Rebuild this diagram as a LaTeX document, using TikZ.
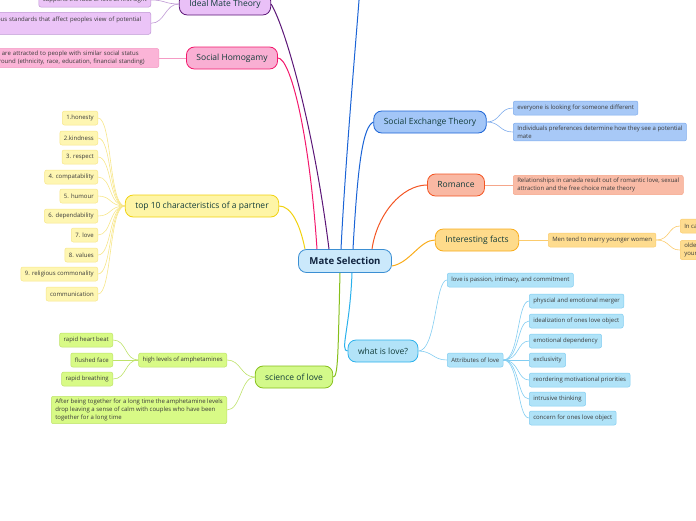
\documentclass[tikz,border=0pt]{standalone}
\usepackage{fontspec}
\setmainfont{Open Sans}
\usetikzlibrary{positioning}

\definecolor{rootfill}{HTML}{CBE9FB}
\definecolor{rootline}{HTML}{3B8FD3}
\definecolor{roottext}{HTML}{10243F}
\definecolor{topictext}{HTML}{123C3A}
\definecolor{leaftext}{HTML}{3A3A3A}
% purple
\definecolor{purline}{HTML}{5B1677}
\definecolor{purfill}{HTML}{E9C0F7}
\definecolor{purleaf}{HTML}{EBC4F7}
\definecolor{purleafline}{HTML}{BE97D4}
% pink
\definecolor{pinkline}{HTML}{F3196D}
\definecolor{pinkfill}{HTML}{F9AFD3}
\definecolor{pinkleaf}{HTML}{FBB4D7}
\definecolor{pinkleafline}{HTML}{F59BC5}
% yellow
\definecolor{yelline}{HTML}{F1D20F}
\definecolor{yelfill}{HTML}{FEF5A6}
\definecolor{yelleaf}{HTML}{FEF6B2}
\definecolor{yelleafline}{HTML}{F7E68A}
% lime
\definecolor{limeline}{HTML}{86BF1B}
\definecolor{limefill}{HTML}{D3F98A}
\definecolor{limeleaf}{HTML}{D8FA86}
\definecolor{limeleafline}{HTML}{BEE26A}
% blue
\definecolor{blueline}{HTML}{1B64D6}
\definecolor{bluefill}{HTML}{A3C6F7}
\definecolor{blueleaf}{HTML}{A8C9F7}
\definecolor{blueleafline}{HTML}{7FACEC}
% red orange
\definecolor{redline}{HTML}{F35624}
\definecolor{redfill}{HTML}{F9B8A3}
\definecolor{redleaf}{HTML}{F9BBA6}
\definecolor{redleafline}{HTML}{F5A68A}
% orange
\definecolor{orline}{HTML}{F9AC1B}
\definecolor{orfill}{HTML}{FEDB8B}
\definecolor{orleaf}{HTML}{FEDC8F}
\definecolor{orleafline}{HTML}{FBCB6C}
% light blue
\definecolor{skyline}{HTML}{2AB1EC}
\definecolor{skyfill}{HTML}{B2E3F8}
\definecolor{skyleaf}{HTML}{B0E3F8}
\definecolor{skyleafline}{HTML}{82CDF1}

\tikzset{
  rootnode/.style={draw=rootline, fill=rootfill, rounded corners=8pt, line width=0.8pt,
    minimum height=23pt, inner xsep=11pt, text=roottext,
    font=\fontsize{9.6}{11}\selectfont\bfseries},
  topic/.style={rounded corners=8pt, line width=0.8pt, minimum height=22pt,
    inner xsep=10pt, text=topictext, font=\fontsize{8.5}{10}\selectfont},
  leaf/.style={rounded corners=2pt, line width=0.5pt, minimum height=14pt,
    inner xsep=4pt, inner ysep=2.5pt, text=leaftext, align=left,
    font=\fontsize{6}{8.2}\selectfont},
  branch/.style={line width=1pt},
  twig/.style={line width=0.6pt}
}

\begin{document}
\begin{tikzpicture}[x=1pt,y=-1pt]
  \useasboundingbox (0,0) rectangle (696,520);
  \clip (0,0) rectangle (696,520);

  % centre
  \node[rootnode] (root) at (345,261) {Mate Selection};

  % main topics
  \node[topic, draw=purline, fill=purfill] (ideal) at (225,4) {Ideal Mate Theory};
  \node[topic, draw=pinkline, fill=pinkfill] (homog) at (232,58) {Social Homogamy};
  \node[topic, draw=yelline, fill=yelfill] (top10) at (202,206) {top 10 characteristics of a partner};
  \node[topic, draw=limeline, fill=limefill] (science) at (294,377) {science of love};
  \node[topic, draw=blueline, fill=bluefill] (exch) at (430,122) {Social Exchange Theory};
  \node[topic, draw=redline, fill=redfill] (romance) at (456,185) {Romance};
  \node[topic, draw=orline, fill=orfill] (facts) at (477,240) {Interesting facts};
  \node[topic, draw=skyline, fill=skyfill] (whatlove) at (383,351) {what is love?};
  \coordinate (offtop) at (362,-40);

  % Ideal Mate Theory
  \node[leaf, draw=purleafline, fill=purleaf, anchor=east] (sight) at (151,0)
    {supports the idea of love at first sight};
  \node[leaf, draw=purleafline, fill=purleaf, anchor=north east, minimum height=22pt,
    text width=160pt] (standards) at (151,12)
    {various standards that affect peoples view of potential\\ \mbox{}};

  % Social Homogamy
  \node[leaf, draw=pinkleafline, fill=pinkleaf, anchor=east, text width=185pt] (similar) at (159,58)
    {Individuals are attracted to people with similar social status\\
     and background (ethnicity, race, education, financial standing)};

  % top 10
  \node[leaf, draw=yelleafline, fill=yelleaf, anchor=east] (c1) at (98,118) {1.honesty};
  \node[leaf, draw=yelleafline, fill=yelleaf, anchor=east] (c2) at (98,138) {2.kindness};
  \node[leaf, draw=yelleafline, fill=yelleaf, anchor=east] (c3) at (98,157) {3. respect};
  \node[leaf, draw=yelleafline, fill=yelleaf, anchor=east] (c4) at (98,177) {4. compatability};
  \node[leaf, draw=yelleafline, fill=yelleaf, anchor=east] (c5) at (98,196) {5. humour};
  \node[leaf, draw=yelleafline, fill=yelleaf, anchor=east] (c6) at (98,216) {6. dependability};
  \node[leaf, draw=yelleafline, fill=yelleaf, anchor=east] (c7) at (98,235) {7. love};
  \node[leaf, draw=yelleafline, fill=yelleaf, anchor=east] (c8) at (98,255) {8. values};
  \node[leaf, draw=yelleafline, fill=yelleaf, anchor=east] (c9) at (98,274) {9. religious commonality};
  \node[leaf, draw=yelleafline, fill=yelleaf, anchor=east] (c10) at (98,294) {communication};

  % science of love
  \node[leaf, draw=limeleafline, fill=limeleaf, anchor=east] (amph) at (227,360)
    {high levels of amphetamines};
  \node[leaf, draw=limeleafline, fill=limeleaf, anchor=east] (after) at (227,410)
    {After being together for a long time the amphetamine levels\\
     drop leaving a sense of calm with couples who have been\\
     together for a long time};
  \node[leaf, draw=limeleafline, fill=limeleaf, anchor=east] (heart) at (113,340) {rapid heart beat};
  \node[leaf, draw=limeleafline, fill=limeleaf, anchor=east] (flush) at (113,360) {flushed face};
  \node[leaf, draw=limeleafline, fill=limeleaf, anchor=east] (breath) at (113,379) {rapid breathing};

  % Social Exchange Theory
  \node[leaf, draw=blueleafline, fill=blueleaf, anchor=west] (someone) at (513,108)
    {everyone is looking for someone different};
  \node[leaf, draw=blueleafline, fill=blueleaf, anchor=west] (prefs) at (513,132)
    {Individuals preferences determine how they see a potential\\ mate};

  % Romance
  \node[leaf, draw=redleafline, fill=redleaf, anchor=west] (canada) at (513,185)
    {Relationships in canada result out of romantic love, sexual\\
     attraction and the free choice mate theory};

  % Interesting facts
  \node[leaf, draw=orleafline, fill=orleaf, anchor=west] (younger) at (548,240)
    {Men tend to marry younger women};
  \node[leaf, draw=orleafline, fill=orleaf, anchor=west] (incan) at (680,226) {In canada};
  \node[leaf, draw=orleafline, fill=orleaf, anchor=west] (older) at (680,250) {older\\ younger};

  % what is love?
  \node[leaf, draw=skyleafline, fill=skyleaf, anchor=west] (passion) at (447,280)
    {love is passion, intimacy, and commitment};
  \node[leaf, draw=skyleafline, fill=skyleaf, anchor=west] (attr) at (447,360) {Attributes of love};
  \node[leaf, draw=skyleafline, fill=skyleaf, anchor=west] (a1) at (529,301) {physcial and emotional merger};
  \node[leaf, draw=skyleafline, fill=skyleaf, anchor=west] (a2) at (529,321) {idealization of ones love object};
  \node[leaf, draw=skyleafline, fill=skyleaf, anchor=west] (a3) at (529,341) {emotional dependency};
  \node[leaf, draw=skyleafline, fill=skyleaf, anchor=west] (a4) at (529,360) {exclusivity};
  \node[leaf, draw=skyleafline, fill=skyleaf, anchor=west] (a5) at (529,380) {reordering motivational priorities};
  \node[leaf, draw=skyleafline, fill=skyleaf, anchor=west] (a6) at (529,399) {intrusive thinking};
  \node[leaf, draw=skyleafline, fill=skyleaf, anchor=west] (a7) at (529,418) {concern for ones love object};

  % branches from the centre
  \begin{scope}[branch]
    \draw[purline] ([xshift=-16pt]root.north) .. controls +(-15,-120) and +(15,25) .. (ideal.east);
    \draw[pinkline] ([xshift=-28pt]root.north) .. controls +(-8,-120) and +(12,0) .. (homog.east);
    \draw[yelline] ([xshift=-40pt]root.north) .. controls +(-5,-25) and +(12,0) .. (top10.east);
    \draw[blueline] ([xshift=-4pt]root.north) .. controls +(5,-100) and +(-4,60) .. (offtop);
    \draw[blueline] ([xshift=8pt]root.north) .. controls +(5,-90) and +(-10,5) .. (exch.west);
    \draw[redline] ([xshift=27pt]root.north) .. controls +(5,-35) and +(-25,0) .. (romance.west);
    \draw[orline] ([yshift=-5pt]root.east) .. controls +(18,-3) and +(-15,0) .. (facts.west);
    \draw[skyline] ([xshift=7pt]root.south) .. controls +(-2,55) and +(-8,0) .. (whatlove.west);
    \draw[limeline] ([xshift=-5pt]root.south) .. controls +(-2,80) and +(5,0) .. (science.east);
  \end{scope}

  % twigs
  \begin{scope}[twig]
    \draw[purleafline] (ideal.west) .. controls +(-14,0) and +(14,0) .. (sight.east);
    \draw[purleafline] (ideal.west) .. controls +(-14,0) and +(14,0) .. (standards.east);
    \draw[pinkleafline] (homog.west) -- (similar.east);
    \draw[yelleafline] (top10.west) .. controls +(-16,0) and +(14,0) .. (c1.east);
    \draw[yelleafline] (top10.west) .. controls +(-16,0) and +(14,0) .. (c2.east);
    \draw[yelleafline] (top10.west) .. controls +(-16,0) and +(14,0) .. (c3.east);
    \draw[yelleafline] (top10.west) .. controls +(-16,0) and +(14,0) .. (c4.east);
    \draw[yelleafline] (top10.west) .. controls +(-16,0) and +(14,0) .. (c5.east);
    \draw[yelleafline] (top10.west) .. controls +(-16,0) and +(14,0) .. (c6.east);
    \draw[yelleafline] (top10.west) .. controls +(-16,0) and +(14,0) .. (c7.east);
    \draw[yelleafline] (top10.west) .. controls +(-16,0) and +(14,0) .. (c8.east);
    \draw[yelleafline] (top10.west) .. controls +(-16,0) and +(14,0) .. (c9.east);
    \draw[yelleafline] (top10.west) .. controls +(-16,0) and +(14,0) .. (c10.east);
    \draw[limeleafline] (science.west) .. controls +(-14,0) and +(14,0) .. (amph.east);
    \draw[limeleafline] (science.west) .. controls +(-14,0) and +(14,0) .. (after.east);
    \draw[limeleafline] (amph.west) .. controls +(-14,0) and +(14,0) .. (heart.east);
    \draw[limeleafline] (amph.west) -- (flush.east);
    \draw[limeleafline] (amph.west) .. controls +(-14,0) and +(14,0) .. (breath.east);
    \draw[blueleafline] (exch.east) .. controls +(14,0) and +(-14,0) .. (someone.west);
    \draw[blueleafline] (exch.east) .. controls +(14,0) and +(-14,0) .. (prefs.west);
    \draw[redleafline] (romance.east) -- (canada.west);
    \draw[orleafline] (facts.east) -- (younger.west);
    \draw[orleafline] (younger.east) .. controls +(14,0) and +(-12,0) .. (incan.west);
    \draw[orleafline] (younger.east) .. controls +(14,0) and +(-12,0) .. (older.west);
    \draw[skyleafline] (whatlove.east) .. controls +(18,0) and +(-12,0) .. (passion.west);
    \draw[skyleafline] (whatlove.east) .. controls +(14,0) and +(-14,0) .. (attr.west);
    \draw[skyleafline] (attr.east) .. controls +(16,0) and +(-12,0) .. (a1.west);
    \draw[skyleafline] (attr.east) .. controls +(16,0) and +(-12,0) .. (a2.west);
    \draw[skyleafline] (attr.east) .. controls +(16,0) and +(-12,0) .. (a3.west);
    \draw[skyleafline] (attr.east) -- (a4.west);
    \draw[skyleafline] (attr.east) .. controls +(16,0) and +(-12,0) .. (a5.west);
    \draw[skyleafline] (attr.east) .. controls +(16,0) and +(-12,0) .. (a6.west);
    \draw[skyleafline] (attr.east) .. controls +(16,0) and +(-12,0) .. (a7.west);
  \end{scope}
\end{tikzpicture}
\end{document}
